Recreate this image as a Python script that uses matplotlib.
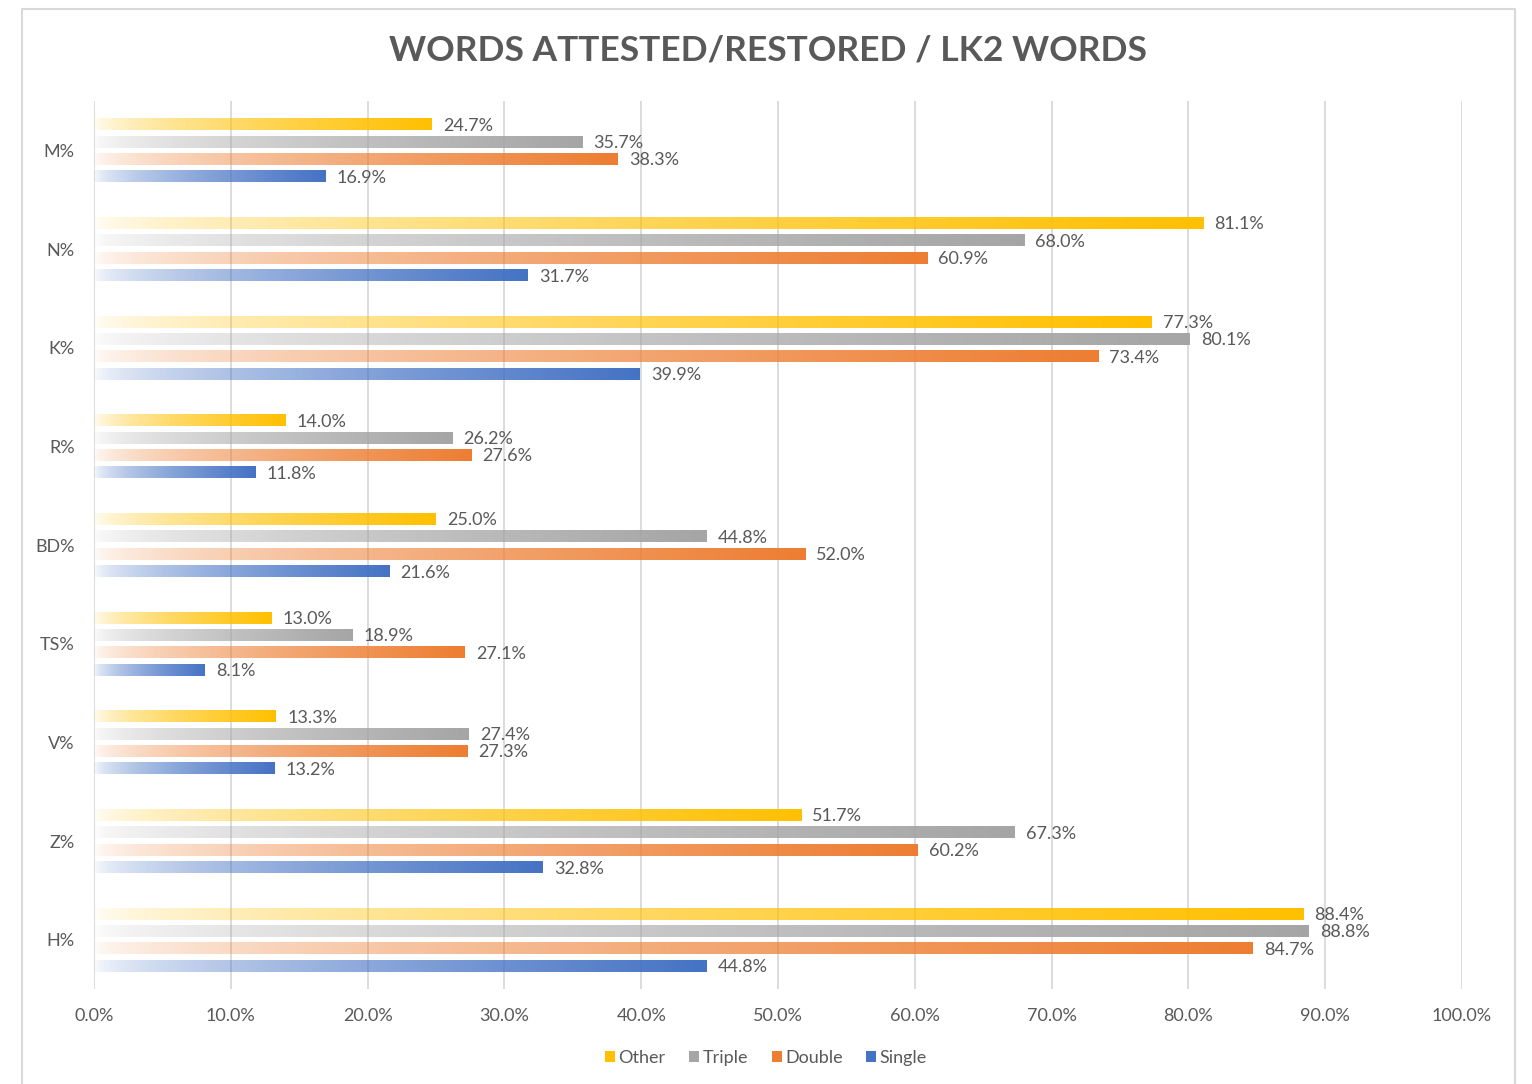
import numpy as np
import matplotlib
matplotlib.use("Agg")
import matplotlib.pyplot as plt
from matplotlib.patches import Rectangle, Patch
from matplotlib.colors import to_rgb

plt.rcParams['font.family'] = ['Lato', 'DejaVu Sans']

categories = ["M%", "N%", "K%", "R%", "BD%", "TS%", "V%", "Z%", "H%"]
series_names = ["Other", "Triple", "Double", "Single"]
other = [24.7, 81.1, 77.3, 14.0, 25.0, 13.0, 13.3, 51.7, 88.4]
triple = [35.7, 68.0, 80.1, 26.2, 44.8, 18.9, 27.4, 67.3, 88.8]
double = [38.3, 60.9, 73.4, 27.6, 52.0, 27.1, 27.3, 60.2, 84.7]
single = [16.9, 31.7, 39.9, 11.8, 21.6, 8.1, 13.2, 32.8, 44.8]
xticks = [0, 10, 20, 30, 40, 50, 60, 70, 80, 90, 100]
title = "WORDS ATTESTED/RESTORED / LK2 WORDS"

colors = ["#FFC000", "#A5A5A5", "#ED7D31", "#4472C4"]
text_color = "#595959"
grid_color = "#D9D9D9"

W, H = 1532, 1084
fig = plt.figure(figsize=(W / 100, H / 100), dpi=100)
ax = fig.add_axes([94 / W, 1 - 989 / H, (1462 - 94) / W, (989 - 101) / H])

slot = 0.1765
bar_h = 0.122
offsets = [-1.5 * slot, -0.5 * slot, 0.5 * slot, 1.5 * slot]
y = np.arange(len(categories))

t = np.linspace(0, 1, 256)
alpha = np.clip(0.03 + 0.97 * t ** 0.62, 0, 1)

for vals, col, off in zip([other, triple, double, single], colors, offsets):
    bars = ax.barh(y + off, vals, height=bar_h, color='none', edgecolor='none', zorder=2)
    rgb = to_rgb(col)
    img = np.zeros((1, 256, 4))
    img[..., 0], img[..., 1], img[..., 2] = rgb
    img[..., 3] = alpha
    for p, v in zip(bars.patches, vals):
        x0, y0 = p.get_x(), p.get_y()
        w, h = p.get_width(), p.get_height()
        im = ax.imshow(img, extent=[x0, x0 + w, y0 + h, y0], aspect='auto',
                       interpolation='bilinear', zorder=2)
        im.set_clip_path(p)
        ax.annotate(f"{v:.1f}%", xy=(x0 + w, y0 + h / 2), xytext=(8, -1),
                    textcoords='offset points', va='center', ha='left',
                    fontsize=13, color=text_color, zorder=3)

ax.set_xlim(0, 100)
ax.set_ylim(len(categories) - 0.5, -0.5)
ax.set_xticks(xticks)
ax.set_xticklabels([f"{v:.1f}%" for v in xticks])
ax.set_yticks(y)
ax.set_yticklabels(categories)
ax.tick_params(axis='both', length=0, labelsize=13, labelcolor=text_color)
ax.tick_params(axis='x', pad=14)
ax.tick_params(axis='y', pad=14)
ax.grid(axis='x', color=grid_color, linewidth=1.3, zorder=0)
ax.set_axisbelow(True)
for s in ax.spines.values():
    s.set_visible(False)

fig.text(0.5013, 1 - 51 / H, title, ha='center', va='center', fontsize=25.5,
         fontweight='bold', color=text_color)

handles = [Patch(facecolor=c, edgecolor='none') for c in colors]
fig.legend(handles, series_names, loc='center', bbox_to_anchor=(0.5, 1 - 1058 / H),
           ncol=4, frameon=False, fontsize=13, labelcolor=text_color,
           handlelength=0.55, handleheight=0.55, handletextpad=0.2, columnspacing=1.3)

fig.patches.append(Rectangle((22 / W, -0.01), (1515 - 22) / W, 1 - 9 / H + 0.01,
                             transform=fig.transFigure, fill=False,
                             edgecolor=grid_color, linewidth=1.5))

fig.savefig("out.png", dpi=100)
